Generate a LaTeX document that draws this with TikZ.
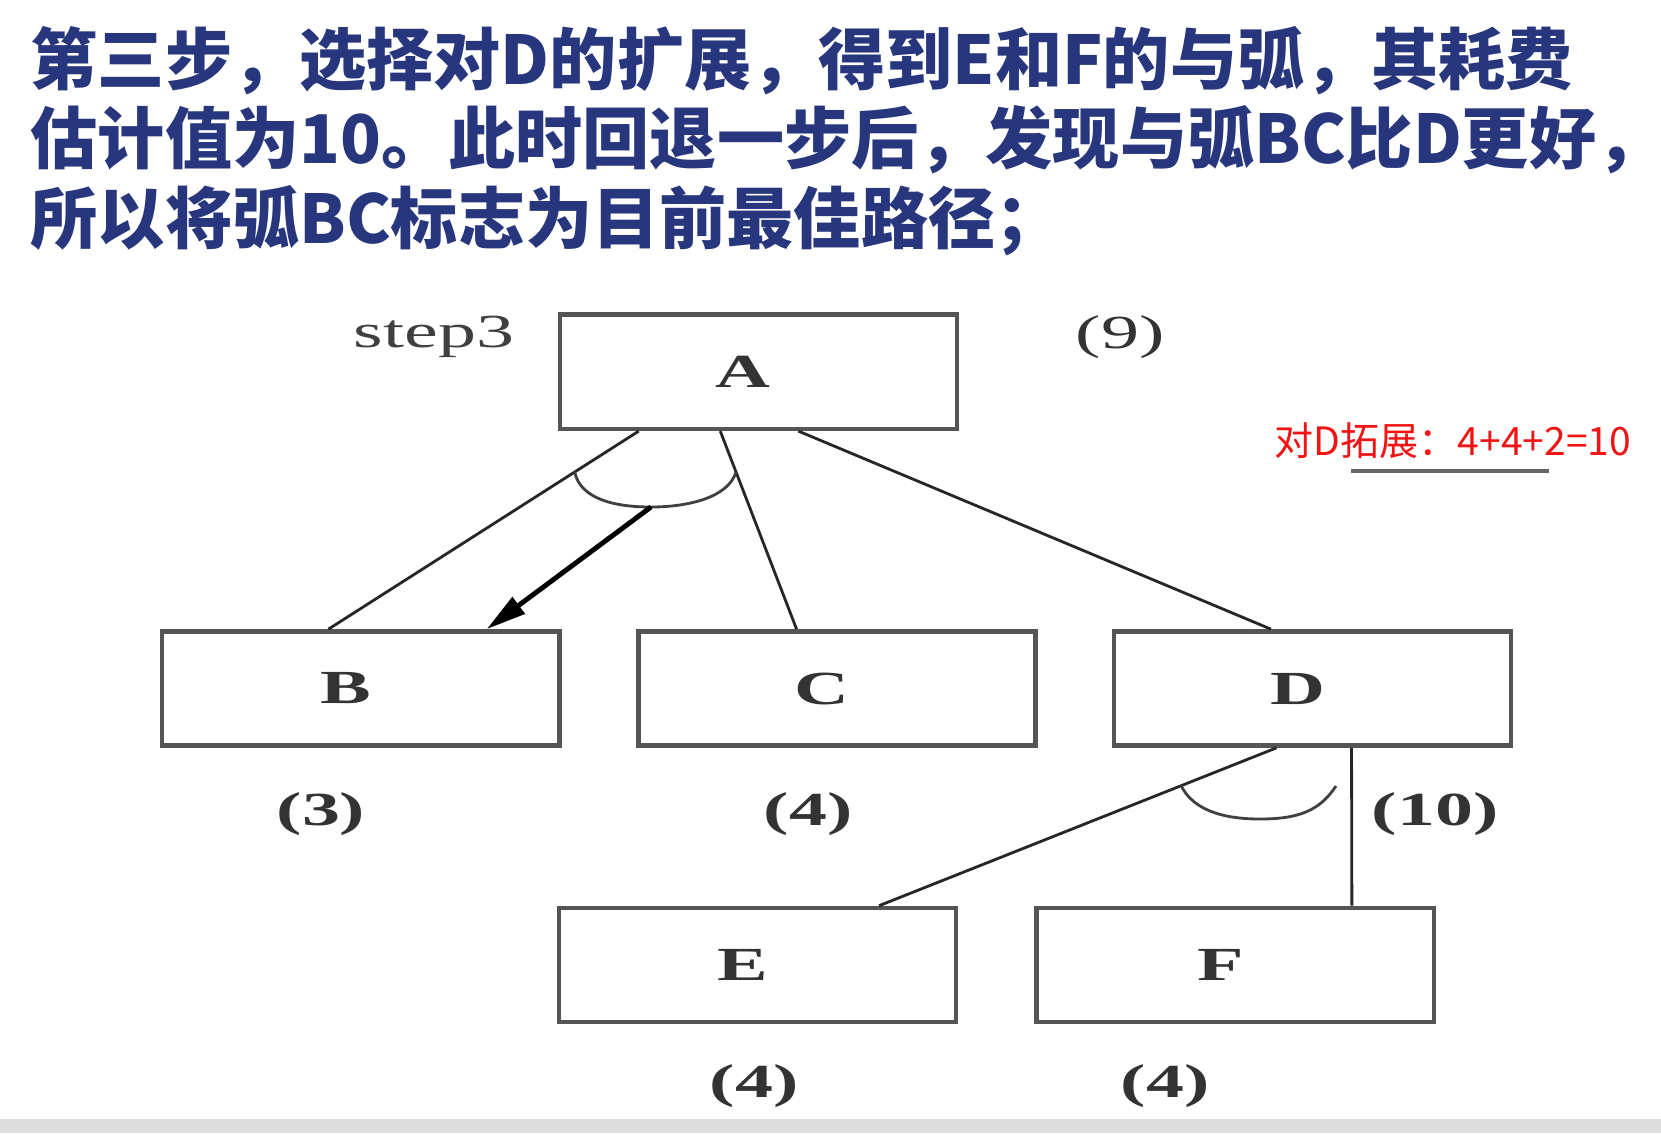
\documentclass[tikz,border=0pt]{standalone}
\usepackage{fontspec}
\usepackage{graphicx}
\usetikzlibrary{arrows.meta}

\newfontfamily\cjk{Noto Sans CJK SC}
\newfontfamily\tnr{Liberation Serif}

\definecolor{titleblue}{RGB}{40,55,125}
\definecolor{notered}{RGB}{240,20,20}
\definecolor{boxgray}{RGB}{85,85,85}
\definecolor{bandgray}{RGB}{221,221,221}

\newcommand{\wide}[1]{\scalebox{1.6}[1]{#1}}

\begin{document}
\begin{tikzpicture}[x=0.01cm, y=-0.01cm,
  box/.style={draw=boxgray, line width=1.3pt, minimum width=3.97cm, minimum height=1.14cm,
    inner sep=0pt, text=black!80, font=\tnr\bfseries\fontsize{13.5}{16}\selectfont,
    execute at end node={\kern0.3cm}},
  cost/.style={inner sep=0pt, text=black!80, font=\tnr\bfseries\fontsize{13.5}{16}\selectfont},
  link/.style={line width=0.8pt, black!85},
  andarc/.style={line width=0.8pt, black!75},
  title/.style={anchor=base west, inner sep=0pt, text=titleblue,
    font=\cjk\bfseries\fontsize{19.1}{22}\selectfont}]

\fill [white] (0,0) rectangle (1661,1133);
\useasboundingbox (0,0) rectangle (1661,1133);
\fill [bandgray] (0,1119) rectangle (1661,1133);

% title
\node [title] (t1) at (30,84) {第三步，选择对D的扩展，得到E和F的与弧，其耗费};
\node [title] (t2) at (30,163.5) {估计值为10。此时回退一步后，发现与弧BC比D更好，};
\node [title] (t3) at (30,243) {所以将弧BC标志为目前最佳路径；};

% boxes
\node [box] (A) at (758.4,371.8) {\wide{A}};
\node [box] (B) at (360.8,688.5) {\wide{B}};
\node [box] (C) at (836.9,688.5) {\wide{C}};
\node [box] (D) at (1312.5,688.5) {\wide{D}};
\node [box] (E) at (757.4,965) {\wide{E}};
\node [box] (F) at (1235.2,965) {\wide{F}};

% links
\draw [link] ([xshift=-1.196cm]A.south) -- coordinate[pos=0.2065] (ab) ([xshift=-0.324cm]B.north);
\draw [link] ([xshift=-0.381cm]A.south) -- coordinate[pos=0.2065] (ac) ([xshift=-0.403cm]C.north);
\draw [link] ([xshift=0.40cm]A.south) -- ([xshift=-0.415cm]D.north);
\draw [andarc] (ab) .. controls +(6,28) and +(-34,0) .. (651,507) coordinate (arcA)
  .. controls +(36,0) and +(-8,26) .. (ac);
\draw [line width=1.4pt, -{Triangle[length=0.4cm, width=0.2cm]}] (arcA) -- ([xshift=1.258cm]B.north);

\draw [link] ([xshift=-0.36cm]D.south) -- coordinate[pos=0.24] (de) ([xshift=1.216cm]E.north);
\draw [link] ([xshift=0.39cm]D.south) -- ([xshift=1.166cm]F.north);
\draw [andarc] (de) .. controls +(12,24) and +(-38,0) .. (1260,819) coordinate (arcD)
  .. controls +(40,0) and +(-16,24) .. (1336,786) coordinate (arcDend);

% costs
\node [cost, font=\tnr\fontsize{13.5}{16}\selectfont, text=black!75] (s3) at (434,337) {\wide{step3}};
\node [cost, font=\tnr\fontsize{13.5}{16}\selectfont] (hA) at (1120,337) {\wide{(9)}};
\node [cost] (hB) at (321,814) {\wide{(3)}};
\node [cost] (hC) at (808,814) {\wide{(4)}};
\node [cost] (hD) at (1435,814) {\wide{(10)}};
\node [cost] (hE) at (754,1086) {\wide{(4)}};
\node [cost] (hF) at (1165,1086) {\wide{(4)}};

% note
\node [anchor=base west, inner sep=0pt, text=notered, font=\cjk\fontsize{11.1}{13}\selectfont]
  (note) at (1274,455) {对D拓展：4+4+2=10};
\coordinate (u1) at (1351,471);
\coordinate (u2) at (1549,471);
\draw [line width=1.4pt, black!60] (u1) -- (u2);

\end{tikzpicture}
\end{document}
